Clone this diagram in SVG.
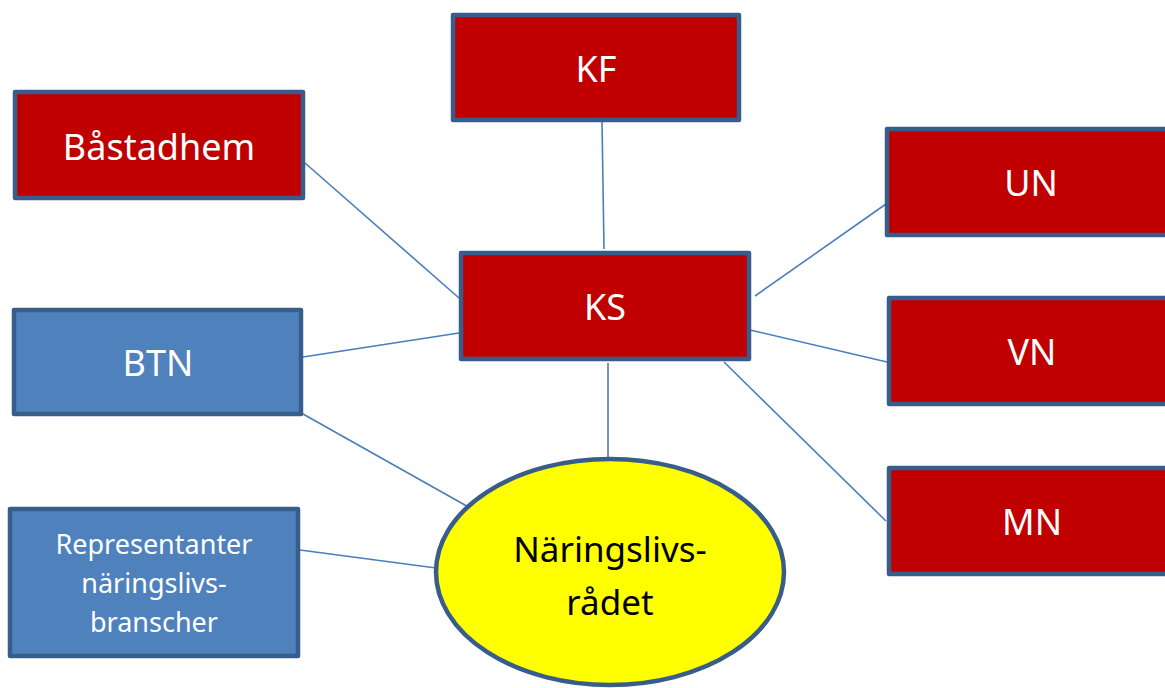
<svg xmlns="http://www.w3.org/2000/svg" width="1165" height="688" viewBox="0 0 1165 688">
<style>
.box{stroke:#385D8A;stroke-width:4.5;stroke-linejoin:round}
.red{fill:#C00000}
.blue{fill:#4F81BD}
.lbl{font-family:"Noto Sans","Open Sans",sans-serif;fill:#FFFFFF;text-anchor:middle}
.big{font-size:36px}
.small{font-size:27px}
.dark{fill:#000000;font-size:35px}
.conn line{stroke:#4A7EBB;stroke-width:1.6}
</style>
<rect width="1165" height="688" fill="#FFFFFF"/>
<g id="connectors" class="conn">
<line x1="602" y1="122" x2="604" y2="249"/>
<line x1="305" y1="163" x2="459" y2="298"/>
<line x1="303" y1="357" x2="459" y2="333"/>
<line x1="755" y1="296" x2="886" y2="204"/>
<line x1="750" y1="330" x2="887" y2="362"/>
<line x1="724" y1="362" x2="886" y2="521"/>
<line x1="608" y1="363" x2="608" y2="458"/>
<line x1="303" y1="414" x2="472" y2="509"/>
<line x1="300" y1="550" x2="436" y2="568"/>
</g>
<g id="KF">
<rect class="box red" x="453" y="15" width="286" height="105"/>
<text class="lbl big" x="596" y="82">KF</text>
</g>
<g id="Bastadhem">
<rect class="box red" x="15" y="92" width="288" height="106"/>
<text class="lbl big" x="159" y="160">Båstadhem</text>
</g>
<g id="KS">
<rect class="box red" x="461" y="253" width="288" height="106"/>
<text class="lbl big" x="605" y="320">KS</text>
</g>
<g id="UN">
<rect class="box red" x="887" y="129" width="290" height="106"/>
<text class="lbl big" x="1031" y="196">UN</text>
</g>
<g id="VN">
<rect class="box red" x="889" y="298" width="290" height="106"/>
<text class="lbl big" x="1032" y="365">VN</text>
</g>
<g id="MN">
<rect class="box red" x="889" y="468" width="290" height="106"/>
<text class="lbl big" x="1032" y="535">MN</text>
</g>
<g id="BTN">
<rect class="box blue" x="14" y="310" width="287" height="104"/>
<text class="lbl big" x="158" y="376">BTN</text>
</g>
<g id="Representanter">
<rect class="box blue" x="10" y="509" width="288" height="147"/>
<text class="lbl small" x="154" y="554">Representanter</text>
<text class="lbl small" x="154" y="593">näringslivs-</text>
<text class="lbl small" x="154" y="632">branscher</text>
</g>
<g id="Naringslivsradet">
<ellipse cx="610" cy="572" rx="174" ry="113" fill="#FFFF00" stroke="#385D8A" stroke-width="4.5"/>
<text class="lbl dark" x="610" y="562">Näringslivs-</text>
<text class="lbl dark" x="610" y="615">rådet</text>
</g>
</svg>
